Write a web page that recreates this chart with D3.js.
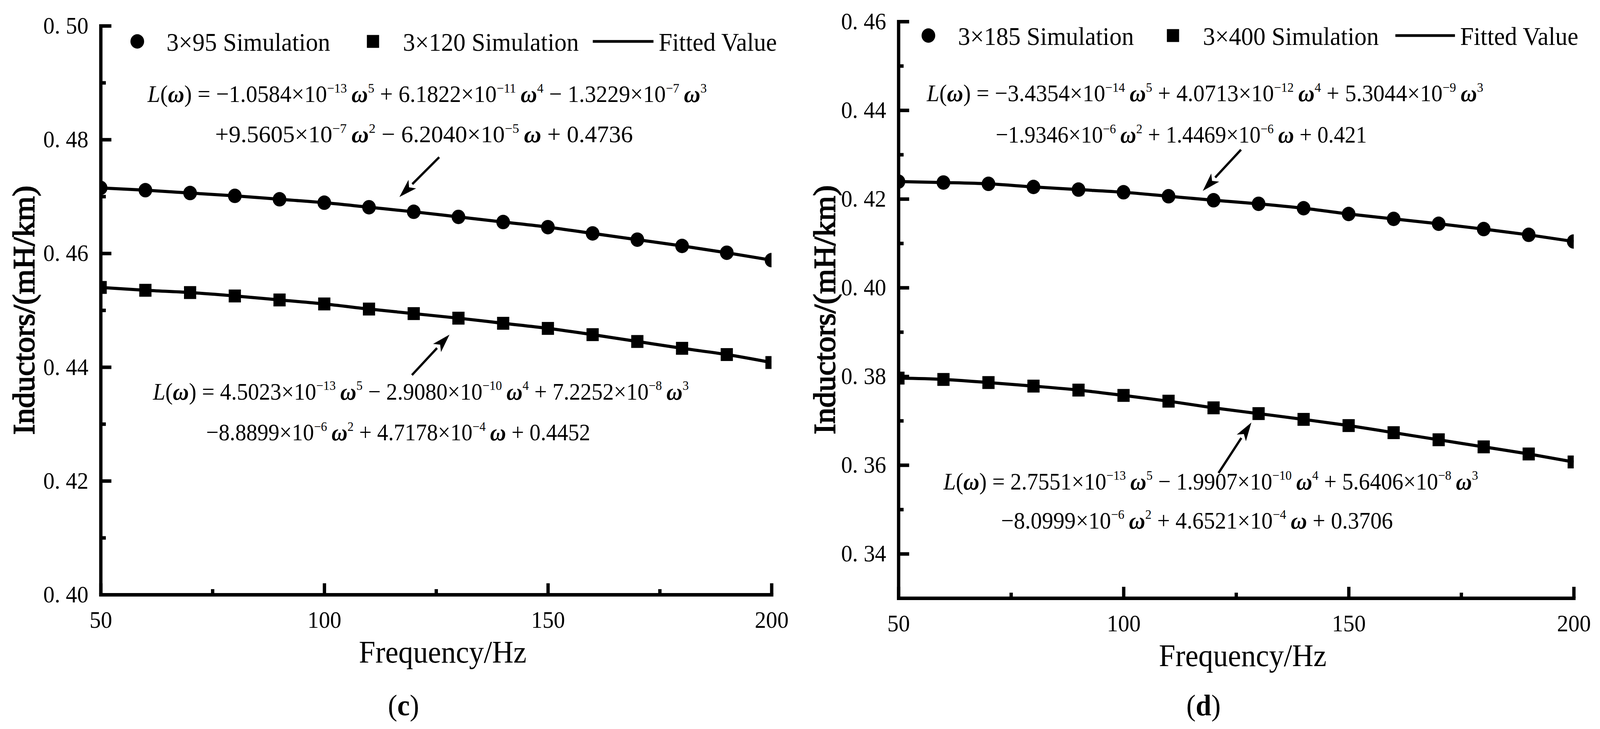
<!DOCTYPE html>
<html><head><meta charset="utf-8">
<script src="https://cdn.jsdelivr.net/npm/d3@7"></script>
<style>
html,body{margin:0;padding:0;background:#fff;overflow:hidden}
#chart{display:block;width:100vw;height:100vh}
svg text{font-family:"Liberation Serif","Times New Roman",serif;fill:#000;white-space:pre}
</style>
</head><body>
<svg id="chart" viewBox="0 0 4324 1866" preserveAspectRatio="none"></svg>
<script>
// ---------------- data ----------------
const freq = [50,60,70,80,90,100,110,120,130,140,150,160,170,180,190,200];
const sim3x95  = [0.4715,0.4711,0.4706,0.4701,0.4695,0.4689,0.4681,0.4673,0.4664,0.4655,0.4646,0.4635,0.4624,0.4613,0.4601,0.4588];
const sim3x120 = [0.4540,0.4535,0.4531,0.4525,0.4518,0.4511,0.4502,0.4494,0.4486,0.4477,0.4468,0.4457,0.4445,0.4433,0.4422,0.4408];
const sim3x185 = [0.4239,0.4237,0.4234,0.4227,0.4221,0.4215,0.4206,0.4197,0.4189,0.4179,0.4166,0.4155,0.4144,0.4132,0.4119,0.4104];
const sim3x400 = [0.3796,0.3793,0.3786,0.3778,0.3769,0.3757,0.3744,0.3729,0.3716,0.3703,0.3689,0.3673,0.3657,0.3641,0.3625,0.3607];

const xTicks = [50,100,150,200];
const xMinor = [75,125,175];
const yTicksC = [0.40,0.42,0.44,0.46,0.48,0.50];
const yMinorC = [0.41,0.43,0.45,0.47,0.49];
const yTicksD = [0.34,0.36,0.38,0.40,0.42,0.44,0.46];
const yMinorD = [0.35,0.37,0.39,0.41,0.43,0.45];

const seriesNamesC = ["3×95 Simulation","3×120 Simulation","Fitted Value"];
const seriesNamesD = ["3×185 Simulation","3×400 Simulation","Fitted Value"];
const xTitle = "Frequency/Hz";
const yTitle = "Inductors/(mH/km)";

const eqC = [
  "L(ω) = −1.0584×10^{−13}ω^{5} + 6.1822×10^{−11}ω^{4} − 1.3229×10^{−7}ω^{3}",
  "+9.5605×10^{−7}ω^{2} − 6.2040×10^{−5}ω + 0.4736",
  "L(ω) = 4.5023×10^{−13}ω^{5} − 2.9080×10^{−10}ω^{4} + 7.2252×10^{−8}ω^{3}",
  "−8.8899×10^{−6}ω^{2} + 4.7178×10^{−4}ω + 0.4452"
];
const eqD = [
  "L(ω) = −3.4354×10^{−14}ω^{5} + 4.0713×10^{−12}ω^{4} + 5.3044×10^{−9}ω^{3}",
  "−1.9346×10^{−6}ω^{2} + 1.4469×10^{−6}ω + 0.421",
  "L(ω) = 2.7551×10^{−13}ω^{5} − 1.9907×10^{−10}ω^{4} + 5.6406×10^{−8}ω^{3}",
  "−8.0999×10^{−6}ω^{2} + 4.6521×10^{−4}ω + 0.3706"
];
// annotation anchors in data units [Hz, value]
const eqPosC = [[60.5,0.4866],[75.6,0.4795],[61.7,0.4343],[73.6,0.4271]];
const eqPosD = [[56.3,0.4420],[71.6,0.4327],[60.0,0.3545],[72.8,0.3457]];
// arrows: [tailHz, tailVal, tipHz, tipVal]
const arrowsC = [[125.7,0.4769,116.8,0.4699],[119.6,0.4386,128.0,0.4457]];
const arrowsD = [[126.1,0.4311,117.6,0.4218],[121.1,0.3582,128.4,0.3696]];

// ---------------- layout ----------------
const panels = [
  {x0:272, x1:2085, yTop:66, yBot:1522, yDomain:[0.40,0.50], yTicks:yTicksC, yMinor:yMinorC,
   s1:sim3x95, s2:sim3x120, names:seriesNamesC, eqs:eqC, eqPos:eqPosC, eqW:[1511,1129,1448,1038], arrows:arrowsC,
   label:"c", leg:{cy:106, c:99, t1:178, s:736, t2:817, l0:1330, l1:1494, t3:1508}, titleOff:180},
  {x0:2428, x1:4253, yTop:55, yBot:1531, yDomain:[0.33,0.46], yTicks:yTicksD, yMinor:yMinorD,
   s1:sim3x185, s2:sim3x400, names:seriesNamesD, eqs:eqD, eqPos:eqPosD, eqW:[1504,1003,1445,1059], arrows:arrowsD,
   label:"d", leg:{cy:91, c:81, t1:161, s:742, t2:823, l0:1343, l1:1504, t3:1518}, titleOff:172}
];

const svg = d3.select("#chart");
svg.append("rect").attr("width",4324).attr("height",1866).attr("fill","#fff");

const fmt = v => d3.format(".2f")(v).replace(".", ". ");

function parseEq(s){
  const parts=[]; const re=/\^\{([^}]*)\}/g; let last=0, m;
  while((m=re.exec(s))){
    if(m.index>last) parts.push({t:s.slice(last,m.index),sup:false});
    parts.push({t:m[1],sup:true}); last=re.lastIndex;
  }
  if(last<s.length) parts.push({t:s.slice(last),sup:false});
  return parts;
}
function drawEq(g, str, x, y, fs){
  const t = g.append("text").attr("x",x).attr("y",y).attr("font-size",fs);
  let raised=false; const sh=0.40*fs;
  parseEq(str).forEach(p=>{
    if(p.sup){
      t.append("tspan").attr("dy",-sh).attr("font-size",fs*0.56).text(p.t); raised=true;
    } else {
      const runs = p.t.match(/[Lω]|[^Lω]+/g);
      runs.forEach((r,i)=>{
        let txt=r;
        if(raised && i===0 && r==="ω") txt="\u2009ω";
        const ts = t.append("tspan").text(txt);
        if(raised && i===0){ ts.attr("dy",sh); raised=false; }
        if(r==="L") ts.attr("font-style","italic");
        if(r==="ω") ts.attr("font-style","italic").attr("font-weight","bold");
      });
    }
  });
  return t;
}

panels.forEach((p,pi)=>{
  const g = svg.append("g");
  const x = d3.scaleLinear().domain([50,200]).range([p.x0,p.x1]);
  const y = d3.scaleLinear().domain(p.yDomain).range([p.yBot,p.yTop]);
  const cid = "clip"+pi;
  svg.append("defs").append("clipPath").attr("id",cid)
    .append("rect").attr("x",p.x0).attr("y",0).attr("width",p.x1-p.x0).attr("height",1866);

  const plot = g.append("g").attr("clip-path",`url(#${cid})`);
  const line = d3.line().x((d,i)=>x(freq[i])).y(d=>y(d)).curve(d3.curveMonotoneX);
  [p.s1,p.s2].forEach(s=>{
    plot.append("path").datum(s).attr("d",line).attr("fill","none").attr("stroke","#000").attr("stroke-width",8);
  });
  plot.selectAll(".c").data(p.s1).join("circle")
    .attr("cx",(d,i)=>x(freq[i])).attr("cy",d=>y(d)).attr("r",18.5).attr("fill","#000");
  plot.selectAll(".s").data(p.s2).join("rect")
    .attr("x",(d,i)=>x(freq[i])-16.5).attr("y",d=>y(d)-16.5).attr("width",33).attr("height",33).attr("fill","#000");

  // axes
  const styleAxis = (sel, fs)=>{
    sel.attr("font-family",null).attr("font-size",null);
    sel.select(".domain").attr("stroke-width",9).attr("stroke-linecap","square");
    sel.selectAll(".tick line").attr("stroke-width",9);
    sel.selectAll(".tick text").attr("font-size",fs);
  };
  const ym = g.append("g").attr("transform",`translate(${p.x0},0)`)
    .call(d3.axisLeft(y).tickValues(p.yMinor).tickSize(-14).tickSizeOuter(0).tickFormat(""));
  ym.select(".domain").remove(); ym.selectAll(".tick line").attr("stroke-width",9);
  const xm = g.append("g").attr("transform",`translate(0,${p.yBot})`)
    .call(d3.axisBottom(x).tickValues(xMinor).tickSize(-14).tickSizeOuter(0).tickFormat(""));
  xm.select(".domain").remove(); xm.selectAll(".tick line").attr("stroke-width",9);
  g.append("g").attr("transform",`translate(${p.x0},0)`)
    .call(d3.axisLeft(y).tickValues(p.yTicks).tickSize(-29).tickSizeOuter(0).tickPadding(33).tickFormat(fmt))
    .call(s=>styleAxis(s,61));
  g.append("g").attr("transform",`translate(0,${p.yBot})`)
    .call(d3.axisBottom(x).tickValues(xTicks).tickSize(-29).tickSizeOuter(0).tickPadding(42).tickFormat(d3.format("d")))
    .call(s=>styleAxis(s,61));

  // titles
  g.append("text").attr("x",(p.x0+p.x1)/2+18).attr("y",p.yBot+174).attr("text-anchor","middle")
    .attr("font-size",80).text(xTitle);
  g.append("text").attr("transform",`translate(${p.x0-p.titleOff},${(p.yTop+p.yBot)/2}) rotate(-90)`)
    .attr("text-anchor","middle").attr("font-size",82).attr("stroke","#000").attr("stroke-width",2.4).text(yTitle);
  const lab = g.append("text").attr("x",(p.x0+p.x1)/2-88).attr("y",1831).attr("text-anchor","middle").attr("font-size",76);
  lab.append("tspan").text("(");
  lab.append("tspan").attr("font-weight","bold").text(p.label);
  lab.append("tspan").text(")");

  // legend
  const L = p.leg, lx = p.x0;
  g.append("circle").attr("cx",lx+L.c).attr("cy",L.cy).attr("r",18.5).attr("fill","#000");
  g.append("rect").attr("x",lx+L.s-16.5).attr("y",L.cy-16.5).attr("width",33).attr("height",33).attr("fill","#000");
  g.append("line").attr("x1",lx+L.l0).attr("x2",lx+L.l1).attr("y1",L.cy).attr("y2",L.cy).attr("stroke","#000").attr("stroke-width",7);
  [[L.t1,p.names[0]],[L.t2,p.names[1]],[L.t3,p.names[2]]].forEach(([o,t])=>{
    g.append("text").attr("x",lx+o).attr("y",L.cy+24).attr("font-size",66).text(t);
  });

  // equations
  p.eqs.forEach((s,i)=>{
    drawEq(g, s, x(p.eqPos[i][0]), y(p.eqPos[i][1]), 61)
      .attr("textLength",p.eqW[i]).attr("lengthAdjust","spacingAndGlyphs");
  });

  // arrows
  p.arrows.forEach(a=>{
    const x1=x(a[0]), y1=y(a[1]), x2=x(a[2]), y2=y(a[3]);
    const ang=Math.atan2(y2-y1,x2-x1), hl=48, hw=15;
    const bx=x2-hl*Math.cos(ang), by=y2-hl*Math.sin(ang);
    g.append("line").attr("x1",x1).attr("y1",y1).attr("x2",bx).attr("y2",by).attr("stroke","#000").attr("stroke-width",6);
    const nx=-Math.sin(ang)*hw, ny=Math.cos(ang)*hw;
    g.append("path").attr("d",`M${x2},${y2}L${bx+nx},${by+ny}L${bx+hl*0.25*Math.cos(ang)},${by+hl*0.25*Math.sin(ang)}L${bx-nx},${by-ny}Z`).attr("fill","#000");
  });
});
</script>
</body></html>
